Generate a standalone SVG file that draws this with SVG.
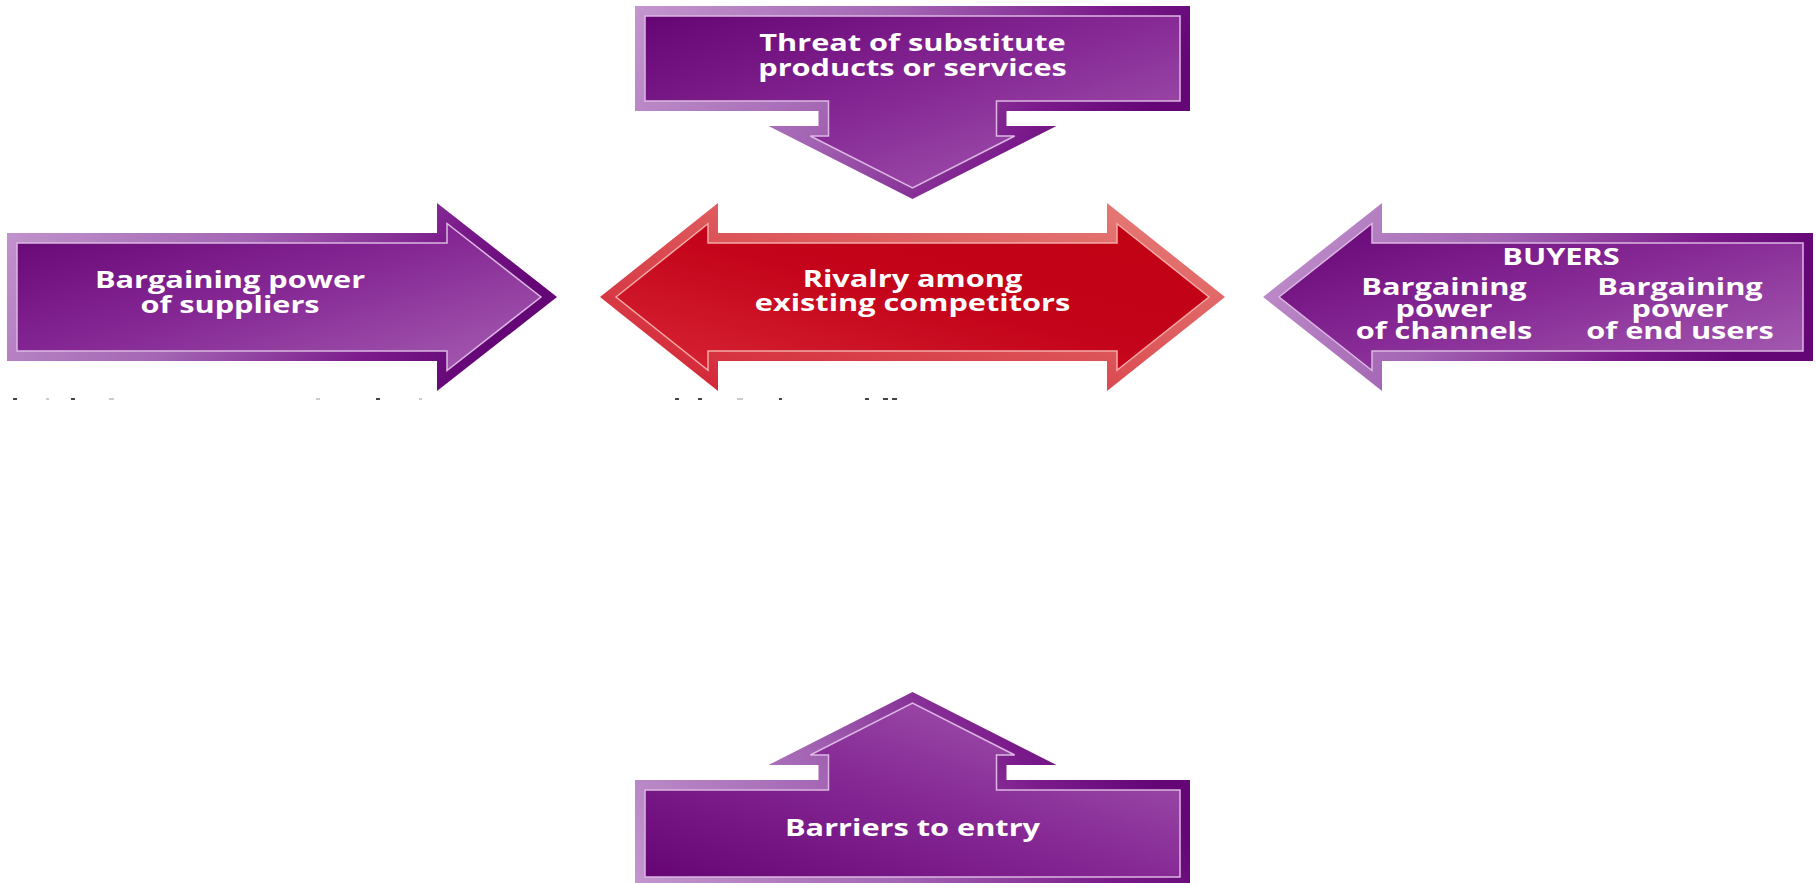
<svg xmlns="http://www.w3.org/2000/svg" width="1816" height="883" viewBox="0 0 1816 883">
<defs>
<linearGradient id="pOuter" x1="0" y1="0" x2="1" y2="0.25">
<stop offset="0" stop-color="#c396ce"/>
<stop offset="0.45" stop-color="#a466b4"/>
<stop offset="0.8" stop-color="#7c1c8c"/>
<stop offset="1" stop-color="#640676"/>
</linearGradient>
<linearGradient id="pInner" x1="0" y1="0" x2="1" y2="1">
<stop offset="0" stop-color="#660474"/>
<stop offset="0.5" stop-color="#872a96"/>
<stop offset="1" stop-color="#a75fb3"/>
</linearGradient>
<linearGradient id="rOuter" x1="0" y1="1" x2="1" y2="0">
<stop offset="0" stop-color="#d21e30"/>
<stop offset="0.5" stop-color="#dc5458"/>
<stop offset="1" stop-color="#e6807a"/>
</linearGradient>
<linearGradient id="rInner" x1="0" y1="1" x2="1" y2="0">
<stop offset="0" stop-color="#d82636"/>
<stop offset="0.5" stop-color="#c4041a"/>
<stop offset="1" stop-color="#c00012"/>
</linearGradient>
</defs>
<style>
.po{fill:url(#pOuter)}
.pi{fill:url(#pInner);stroke:#dcb8e2;stroke-width:1.5}
.ro{fill:url(#rOuter)}
.ri{fill:url(#rInner);stroke:#f4aaa6;stroke-width:1.5}
.t{fill:#ffffff;font-family:"Open Sans","Liberation Sans",sans-serif;font-weight:700;font-size:24px;text-anchor:middle}
.frag{fill:#444444}
.fragl{fill:#cccccc}
</style>
<rect width="1816" height="883" fill="#ffffff"/>

<g id="substitutes">
<path class="po" d="M635,6 L1190,6 L1190,111 L1006.5,111 L1006.5,126 L1056.5,126 L912.5,199 L768.5,126 L818.5,126 L818.5,111 L635,111 Z"/>
<path class="pi" d="M645,16 L1180,16 L1180,101 L996.5,101 L996.5,136 L1014.7,136 L912.5,187.8 L810.3,136 L828.5,136 L828.5,101 L645,101 Z"/>
<text class="t" transform="translate(912.5,51) scale(1.28,1)">Threat of substitute</text>
<text class="t" transform="translate(912.5,76) scale(1.28,1)">products or services</text>
</g>

<g id="suppliers">
<path class="po" d="M7,233 L437,233 L437,203 L557,297 L437,391 L437,361 L7,361 Z"/>
<path class="pi" d="M17,243 L447,243 L447,223.5 L541,297 L447,370.5 L447,351 L17,351 Z"/>
<text class="t" transform="translate(230,288) scale(1.28,1)">Bargaining power</text>
<text class="t" transform="translate(230,313) scale(1.28,1)">of suppliers</text>
</g>

<g id="rivalry">
<path class="ro" d="M600,297 L718,203 L718,233 L1107,233 L1107,203 L1225,297 L1107,391 L1107,361 L718,361 L718,391 Z"/>
<path class="ri" d="M616,297 L708,223.7 L708,243 L1117,243 L1117,223.7 L1209,297 L1117,370.3 L1117,351 L708,351 L708,370.3 Z"/>
<text class="t" transform="translate(912.5,287) scale(1.28,1)">Rivalry among</text>
<text class="t" transform="translate(912.5,311) scale(1.28,1)">existing competitors</text>
</g>

<g id="buyers">
<path class="po" d="M1813,233 L1382,233 L1382,203 L1263,297 L1382,391 L1382,361 L1813,361 Z"/>
<path class="pi" d="M1803,243 L1372,243 L1372,223.5 L1279,297 L1372,370.5 L1372,351 L1803,351 Z"/>
<text class="t" transform="translate(1561,265) scale(1.28,1)">BUYERS</text>
<text class="t" transform="translate(1444,295) scale(1.28,1)">Bargaining</text>
<text class="t" transform="translate(1444,317) scale(1.28,1)">power</text>
<text class="t" transform="translate(1444,339) scale(1.28,1)">of channels</text>
<text class="t" transform="translate(1680,295) scale(1.28,1)">Bargaining</text>
<text class="t" transform="translate(1680,317) scale(1.28,1)">power</text>
<text class="t" transform="translate(1680,339) scale(1.28,1)">of end users</text>
</g>

<g id="barriers">
<g transform="translate(0,891) scale(1,-1)">
<path class="po" d="M635,6 L1190,6 L1190,111 L1006.5,111 L1006.5,126 L1056.5,126 L912.5,199 L768.5,126 L818.5,126 L818.5,111 L635,111 Z"/>
<path class="pi" d="M645,14 L1180,14 L1180,101 L996.5,101 L996.5,136 L1014.7,136 L912.5,187.8 L810.3,136 L828.5,136 L828.5,101 L645,101 Z"/>
</g>
<text class="t" transform="translate(912.5,836) scale(1.28,1)">Barriers to entry</text>
</g>

<g id="connectors"></g>

<g id="cut-caption-fragments">
<rect class="frag" x="13" y="398" width="4" height="2"/>
<rect class="fragl" x="46" y="398" width="3" height="2"/>
<rect class="frag" x="71" y="398" width="4" height="2"/>
<rect class="fragl" x="109" y="398" width="5" height="2"/>
<rect class="fragl" x="316" y="398" width="4" height="2"/>
<rect class="frag" x="376" y="398" width="4" height="2"/>
<rect class="fragl" x="419" y="398" width="3" height="2"/>
<rect class="frag" x="675" y="398" width="4" height="2"/>
<rect class="frag" x="698" y="398" width="4" height="2"/>
<rect class="fragl" x="737" y="398" width="6" height="2"/>
<rect class="frag" x="779" y="398" width="3" height="2"/>
<rect class="frag" x="865" y="398" width="4" height="2"/>
<rect class="frag" x="883" y="398" width="5" height="2"/>
<rect class="frag" x="892" y="398" width="5" height="2"/>
</g>
</svg>
